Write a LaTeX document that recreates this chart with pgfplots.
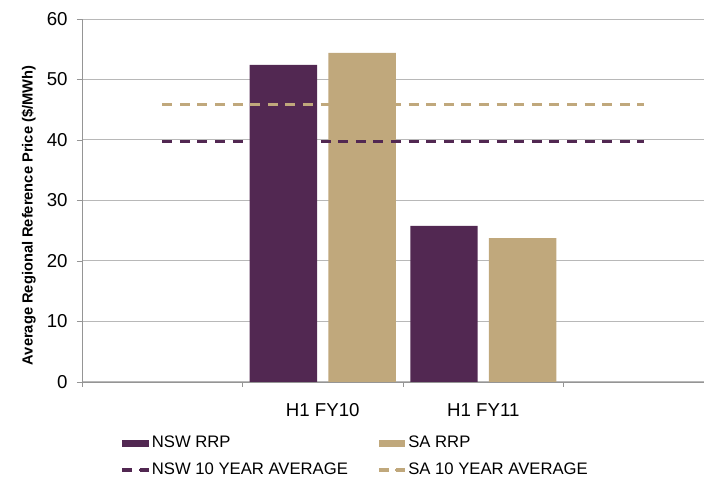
\documentclass[border=0pt]{standalone}
\usepackage{pgfplots}
\pgfplotsset{compat=1.18}
\usepackage{fontspec}
\setmainfont{Liberation Sans}
\definecolor{nsw}{HTML}{522852}
\definecolor{sa}{HTML}{C0A87C}
\definecolor{axgray}{HTML}{959595}
\definecolor{gridgray}{HTML}{B8B8B8}
\begin{document}
\begin{tikzpicture}
\begin{axis}[
  name=ax,
  scale only axis,
  width=466.5pt, height=272.25pt,
  xmin=-0.5, xmax=3.375,
  ymin=0, ymax=60,
  ytick={0,10,...,60},
  xtick={1,2},
  xticklabels={H1 FY10, H1 FY11},
  major x tick style={draw=none},
  minor xtick={-0.5,0.5,1.5,2.5},
  minor x tick style={draw=axgray},
  x tick label style={yshift=-9pt},
  y tick label style={xshift=-3.5pt},
  tick align=outside,
  major tick length=3.75pt,
  minor tick length=3.75pt,
  xtick pos=bottom, ytick pos=left,
  axis x line*=bottom, axis y line*=left,
  axis line style={draw=axgray, -},
  y tick style={draw=axgray},
  ymajorgrids,
  grid style={draw=gridgray, line width=0.75pt},
  ticklabel style={font=\fontsize{14}{16}\selectfont},
  /pgf/number format/assume math mode=true,
  ylabel={\bfseries Average Regional Reference Price (\$/MWh)},
  ylabel style={font=\fontsize{11}{13}\selectfont, at={(rel axis cs:-0.0793,0.459)}, anchor=base, rotate=0},
  legend columns=2,
  legend cell align=left,
  legend style={draw=none, fill=none, at={(0.062,-0.145)}, anchor=north west,
    font=\fontsize{12.5}{14}\selectfont, row sep=8pt, inner sep=0pt,
    nodes={inner xsep=1pt, inner ysep=1pt},
    /tikz/every even column/.append style={column sep=21pt}},
]
\addplot[ybar, bar width=0.42, bar shift=-0.245, fill=nsw, draw=none,
  legend image code/.code={\fill[nsw] (0pt,-2.6pt) rectangle (20pt,2.6pt);}]
  coordinates {(1,52.4) (2,25.8)};
\addlegendentry{NSW RRP}
\addplot[ybar, bar width=0.42, bar shift=0.245, fill=sa, draw=none,
  legend image code/.code={\fill[sa] (0pt,-2.6pt) rectangle (20pt,2.6pt);}]
  coordinates {(1,54.4) (2,23.8)};
\addlegendentry{SA RRP}
\addplot[nsw, line width=2.3pt, dash pattern=on 7.5pt off 5.7pt, mark=none,
  legend image code/.code={\draw[nsw, line width=2pt, dash pattern=on 5.5pt off 7pt] (0pt,0pt) -- (18pt,0pt); \path (0pt,0pt) -- (20pt,0pt);}]
  coordinates {(0,39.8) (3,39.8)};
\addlegendentry{NSW 10 YEAR AVERAGE}
\addplot[sa, line width=2.3pt, dash pattern=on 7.5pt off 5.7pt, mark=none,
  legend image code/.code={\draw[sa, line width=2pt, dash pattern=on 5.5pt off 7pt] (0pt,0pt) -- (18pt,0pt); \path (0pt,0pt) -- (20pt,0pt);}]
  coordinates {(0,45.9) (3,45.9)};
\addlegendentry{SA 10 YEAR AVERAGE}
\end{axis}
\pgfresetboundingbox
\path[use as bounding box] ([shift={(-61.5pt,-73.5pt)}]ax.south west) rectangle ([shift={(0.75pt,14.25pt)}]ax.north east);
\end{tikzpicture}
\end{document}
